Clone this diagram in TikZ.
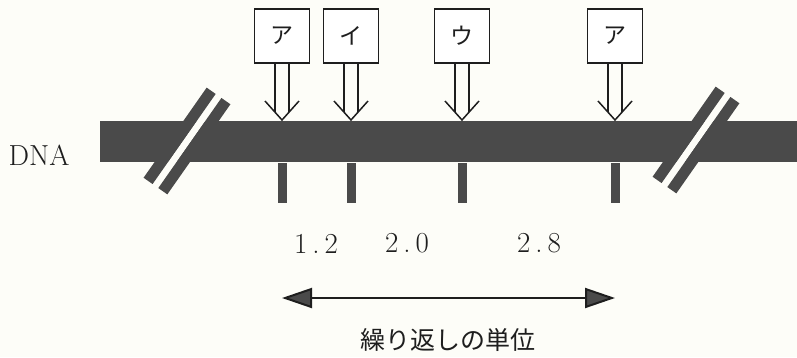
\documentclass[tikz,border=0pt]{standalone}
\usepackage{fontspec}
\newfontfamily\jp{Noto Sans CJK JP}
\usetikzlibrary{arrows.meta}
\definecolor{dnagray}{RGB}{74,74,74}
\definecolor{paper}{RGB}{253,253,248}
\definecolor{ink}{RGB}{30,30,30}
\begin{document}
\begin{tikzpicture}[x=1pt,y=-1pt,
  markbox/.style={draw=ink,line width=1.6pt,minimum width=55pt,minimum height=54pt,inner sep=0pt,
    font=\jp\fontsize{23}{23}\selectfont,text=ink,fill=white},
  hollow/.style={draw=ink,line width=1.5pt,line join=miter},
  tickmark/.style={fill=dnagray,minimum width=9pt,minimum height=40pt,inner sep=0pt,anchor=north},
  num/.style={font=\fontsize{29}{29}\selectfont,text=ink,inner sep=0pt},
  stripe/.style={fill=dnagray},
  gapband/.style={fill=paper},
  bothway/.style={draw=ink,line width=2pt,
    {Triangle[length=30pt,width=20pt,fill=dnagray]}-{Triangle[length=30pt,width=20pt,fill=dnagray]}}
]
\useasboundingbox (0,0) rectangle (797,357);
\fill[paper] (0,0) rectangle (797,357);

% DNA strand
\node[fill=dnagray,minimum width=697pt,minimum height=41pt,inner sep=0pt,anchor=north west] (bar) at (100,121) {};
\node[font=\fontsize{29}{29}\selectfont,text=ink,inner sep=0pt] (dnalabel) at (39,155) {DNA};

% breaks
\foreach \cx/\cy in {187/141, 696/140}{
  \begin{scope}[shift={(\cx,\cy)},rotate=55]
    \fill[gapband] (-35,-3.5) rectangle (35,3.5);
    \fill[stripe] (-55,-14.5) rectangle (55,-3.5);
    \fill[stripe] (-55,3.5) rectangle (55,14.5);
  \end{scope}
}

% boxes
\node[markbox] (b1) at (282,36) {ア};
\node[markbox] (b2) at (351,36) {イ};
\node[markbox] (b3) at (462,36) {ウ};
\node[markbox] (b4) at (615,36) {ア};

% ticks and hollow arrows
\foreach \b in {1,2,3,4}{
  \node[tickmark] (k\b) at (b\b.south |- bar.south) {};
  \coordinate (t\b) at ([yshift=1pt]b\b.south |- bar.north);
  \draw[hollow] ([xshift=-7pt]b\b.south) -- ([shift={(-7,-7.8)}]t\b);
  \draw[hollow] ([xshift=7pt]b\b.south) -- ([shift={(7,-7.8)}]t\b);
  \draw[hollow] ([shift={(-17,-19)}]t\b) -- (t\b) -- ([shift={(17,-19)}]t\b);
}

% numbers
\node[num] (n1) at (316,243.5) {1\kern5pt.\kern5pt2};
\node[num] (n2) at (407,243.5) {2\kern5pt.\kern5pt0};
\node[num] (n3) at (539,243.5) {2\kern5pt.\kern5pt8};

% repeat unit arrow
\coordinate (arrowrow) at (0,298);
\coordinate (aL) at (k1 |- arrowrow);
\coordinate (aR) at (k4 |- arrowrow);
\draw[bothway] (aL) -- (aR);
\node[font=\jp\fontsize{25}{25}\selectfont,text=ink,inner sep=0pt] (unit) at (448,340) {繰り返しの単位};
\end{tikzpicture}
\end{document}
